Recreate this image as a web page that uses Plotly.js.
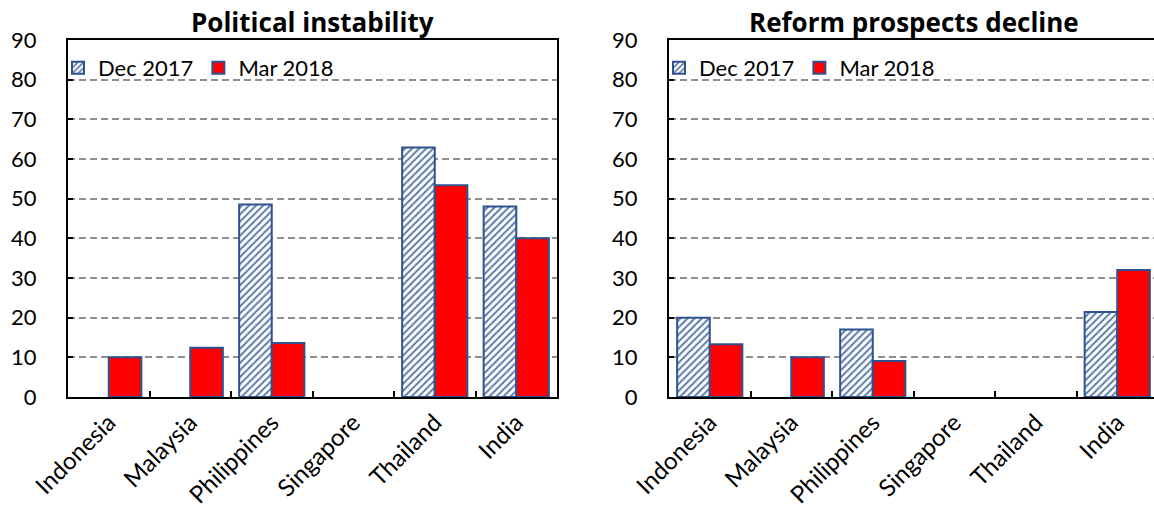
<!DOCTYPE html>
<html>
<head>
<meta charset="utf-8">
<script src="https://cdn.plot.ly/plotly-3.0.1.min.js"></script>
<style>
  html, body { margin: 0; padding: 0; overflow: hidden; background: #ffffff; }
  #chart { width: 1158px; height: 516px; }
</style>
</head>
<body>
<div id="chart"></div>
<script>
// Survey share (%) citing each risk, by country
const countries = ['Indonesia', 'Malaysia', 'Philippines', 'Singapore', 'Thailand', 'India'];
const seriesNames = ['Dec 2017', 'Mar 2018'];
const panelTitles = ['Political instability', 'Reform prospects decline'];

const instabilityDec2017 = [null, null, 48.5, null, 62.9, 48.0];
const instabilityMar2018 = [10.0, 12.4, 13.6, null, 53.4, 40.0];
const reformDec2017 = [20.0, null, 17.0, null, null, 21.4];
const reformMar2018 = [13.3, 10.0, 9.1, null, null, 32.0];

const yTicks = [0, 10, 20, 30, 40, 50, 60, 70, 80, 90];

const W = 1158, H = 516;
const FONT = 'Lato, "Open Sans", sans-serif';
const TITLE_FONT = '"Open Sans", sans-serif';
const OUTLINE = '#2F528F';

function hatched(y, xa, ya, leg) {
  return {
    type: 'bar', name: seriesNames[0], x: countries, y: y,
    xaxis: xa, yaxis: ya, legend: leg,
    marker: {
      color: '#ffffff',
      pattern: { shape: '/', fgcolor: '#5a7aab', bgcolor: '#ffffff', size: 5, solidity: 0.4 },
      line: { color: OUTLINE, width: 2 }
    },
    hoverinfo: 'skip'
  };
}
function solid(y, xa, ya, leg) {
  return {
    type: 'bar', name: seriesNames[1], x: countries, y: y,
    xaxis: xa, yaxis: ya, legend: leg,
    marker: { color: '#ff0000', line: { color: OUTLINE, width: 2 } },
    hoverinfo: 'skip'
  };
}

const traces = [
  hatched(instabilityDec2017, 'x', 'y', 'legend'),
  solid(instabilityMar2018, 'x', 'y', 'legend'),
  hatched(reformDec2017, 'x2', 'y2', 'legend2'),
  solid(reformMar2018, 'x2', 'y2', 'legend2')
];

const yDomain = [1 - 397 / H, 1 - 40 / H];
const panels = [[68 / W, 557 / W], [669 / W, 1]];

function xAxis(domain, anchor) {
  return {
    domain: domain, anchor: anchor, type: 'category',
    showline: true, linecolor: '#000', linewidth: 2, mirror: true,
    ticks: 'inside', tickson: 'boundaries', ticklen: 6, tickwidth: 2, tickcolor: '#000',
    tickangle: -45, tickfont: { family: FONT, size: 24, color: '#000' },
    showgrid: false, fixedrange: true
  };
}
function yAxis(anchor) {
  return {
    domain: yDomain, anchor: anchor, range: [0, 90],
    tickmode: 'array', tickvals: yTicks,
    showline: true, linecolor: '#000', linewidth: 2, mirror: true,
    ticks: 'inside', ticklen: 5, tickwidth: 2, tickcolor: '#000',
    ticklabelstandoff: 25,
    tickfont: { family: FONT, size: 22, color: '#000' },
    showgrid: true, gridcolor: '#8f8f8f', gridwidth: 2, griddash: '7px,4px',
    zeroline: false, fixedrange: true
  };
}
function legendAt(xPx) {
  return {
    x: xPx / W, y: 1 - 47 / H, xanchor: 'left', yanchor: 'top',
    orientation: 'h', bgcolor: 'rgba(0,0,0,0)', borderwidth: 0,
    font: { family: FONT, size: 22, color: '#000' },
    itemwidth: 30, tracegroupgap: 0
  };
}

const layout = {
  width: W, height: H,
  margin: { l: 0, r: 0, t: 0, b: 0 },
  paper_bgcolor: '#ffffff', plot_bgcolor: '#ffffff',
  barmode: 'group', bargap: 0.2, bargroupgap: 0,
  showlegend: true,
  font: { family: FONT, color: '#000' },
  xaxis: xAxis(panels[0], 'y'),
  yaxis: yAxis('x'),
  xaxis2: xAxis(panels[1], 'y2'),
  yaxis2: yAxis('x2'),
  legend: legendAt(58),
  legend2: legendAt(659),
  annotations: panelTitles.map((t, i) => ({
    text: '<b>' + t + '</b>', xref: 'paper', yref: 'paper',
    x: (panels[i][0] + panels[i][1]) / 2, y: 1 - 22 / H,
    xanchor: 'center', yanchor: 'middle', showarrow: false,
    font: { family: TITLE_FONT, size: 26, color: '#000' }
  }))
};

Plotly.newPlot('chart', traces, layout, { displayModeBar: false, staticPlot: true });
</script>
</body>
</html>
